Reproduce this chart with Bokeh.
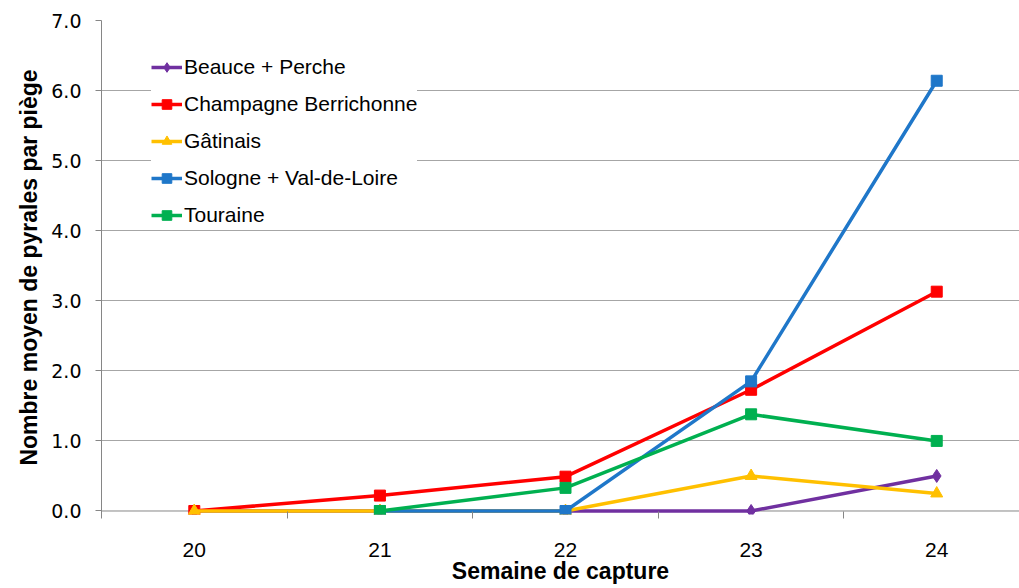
import numpy as np
from bokeh.plotting import figure
from bokeh.models import Range1d, FixedTicker, Legend, PrintfTickFormatter
from bokeh.embed import file_html
from bokeh.resources import INLINE

weeks = [20, 21, 22, 23, 24]
week_labels = ["20", "21", "22", "23", "24"]
nan = float("nan")
beauce = [0.0, 0.0, 0.0, 0.0, 0.5]
champagne = [0.0, 0.22, 0.49, 1.73, 3.13]
gatinais = [0.0, 0.0, 0.0, 0.5, 0.25]
sologne = [nan, 0.0, 0.0, 1.85, 6.14]
touraine = [nan, 0.0, 0.33, 1.38, 1.0]

series = [
    ("Beauce + Perche", beauce, "#7030A0", "diamond", 13),
    ("Champagne Berrichonne", champagne, "#FF0000", "square", 11),
    ("Gâtinais", gatinais, "#FFC000", "triangle", 12),
    ("Sologne + Val-de-Loire", sologne, "#1F77C9", "square", 11),
    ("Touraine", touraine, "#00B050", "square", 11),
]

X_END = 24.446
p = figure(width=1019, height=588, output_backend="svg", toolbar_location=None,
           x_range=Range1d(19.5, X_END), y_range=Range1d(-0.05, 7),
           min_border_left=101, min_border_right=0, min_border_top=20, min_border_bottom=74)
p.outline_line_color = None
p.background_fill_color = "white"
p.border_fill_color = "white"

items = []
for name, vals, color, marker, size in series:
    r1 = p.line(weeks, vals, line_color=color, line_width=3.5)
    r2 = p.scatter(weeks, vals, marker=marker, size=size, fill_color=color, line_color=color)
    items.append((name, [r1, r2]))

legend = Legend(items=items, location=(50, 287), background_fill_color="white",
                background_fill_alpha=1.0, border_line_color=None,
                glyph_width=31, glyph_height=24, label_height=24, spacing=13,
                padding=10, margin=0, label_standoff=2,
                label_text_font="Liberation Sans", label_text_font_size="21px",
                label_text_color="#000000")
p.add_layout(legend, "center")

# x axis
p.xgrid.grid_line_color = None
p.xaxis.ticker = FixedTicker(ticks=weeks, minor_ticks=[19.5, 20.5, 21.5, 22.5, 23.5, 24.5])
p.xaxis.major_label_overrides = {w: l for w, l in zip(weeks, week_labels)}
p.xaxis.major_tick_line_color = None
p.xaxis.major_tick_out = 0
p.xaxis.major_tick_in = 0
p.xaxis.minor_tick_line_color = "#868686"
p.xaxis.minor_tick_out = 4
p.xaxis.minor_tick_in = 3
p.xaxis.axis_line_color = None
p.xaxis.major_label_standoff = 24
p.xaxis.major_label_text_font = "Liberation Sans"
p.xaxis.major_label_text_font_size = "21px"
p.xaxis.major_label_text_color = "#000000"
p.xaxis.axis_label = "Semaine de capture"
p.xaxis.axis_label_text_font = "Liberation Sans"
p.xaxis.axis_label_text_font_style = "bold"
p.xaxis.axis_label_text_font_size = "23px"
p.xaxis.axis_label_text_color = "#000000"
p.xaxis.axis_label_standoff = -2

# y axis
p.yaxis.ticker = FixedTicker(ticks=[0, 1, 2, 3, 4, 5, 6, 7], minor_ticks=[])
p.yaxis.formatter = PrintfTickFormatter(format="%.1f")
p.yaxis.axis_line_color = "#868686"
p.yaxis.major_tick_line_color = "#868686"
p.yaxis.major_tick_out = 6
p.yaxis.major_tick_in = 0
p.yaxis.minor_tick_line_color = None
p.yaxis.major_label_standoff = 14
p.yaxis.major_label_text_font = "DejaVu Sans"
p.yaxis.major_label_text_font_size = "19px"
p.yaxis.major_label_text_color = "#000000"
p.yaxis.axis_label = "Nombre moyen de pyrales par piège"
p.yaxis.axis_label_text_font = "Liberation Sans"
p.yaxis.axis_label_text_font_style = "bold"
p.yaxis.axis_label_text_font_size = "23px"
p.yaxis.axis_label_text_color = "#000000"
p.yaxis.axis_label_standoff = 6
p.ygrid.grid_line_color = "#A6A6A6"
p.ygrid.grid_line_width = 1
p.ygrid.ticker = FixedTicker(ticks=[1, 2, 3, 4, 5, 6, 7])

# x axis baseline drawn beneath the series at y = 0
p.line([19.5, X_END], [0, 0], line_color="#868686", line_width=1, level="underlay")

open("out.html", "w").write(file_html(p, INLINE))
